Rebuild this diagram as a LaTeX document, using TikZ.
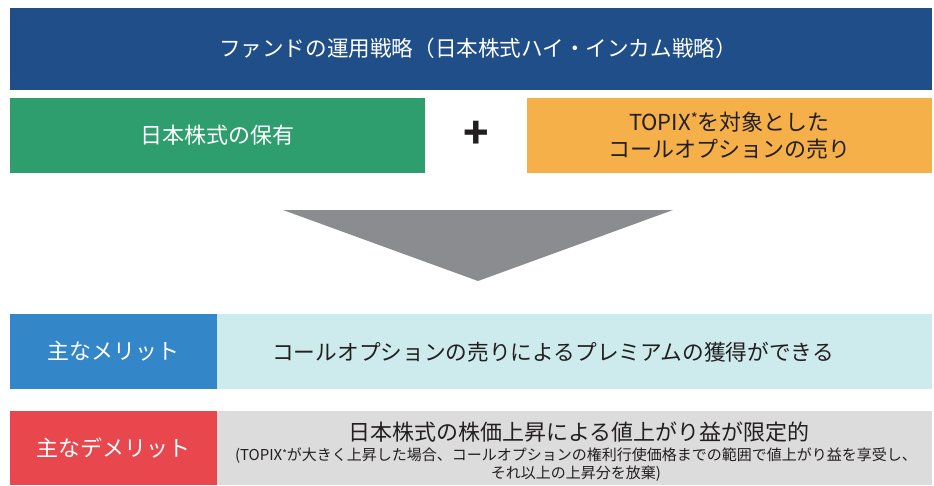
\documentclass[tikz,border=0pt]{standalone}
\usepackage{fontspec}
\setmainfont{Noto Sans CJK JP}
\definecolor{topblue}{HTML}{1F4E89}
\definecolor{boxgreen}{HTML}{2E9E6E}
\definecolor{boxorange}{HTML}{F5B04A}
\definecolor{meritblue}{HTML}{3386C8}
\definecolor{meritcyan}{HTML}{CDEBED}
\definecolor{demred}{HTML}{E8474E}
\definecolor{demgray}{HTML}{DCDCDC}
\definecolor{arrowgray}{HTML}{8A8C8F}
\definecolor{txt}{HTML}{231F20}
\newcommand{\myast}{\raisebox{0.25em}{\fontsize{15}{15}\selectfont *}}
\newcommand{\myastsm}{\raisebox{0.25em}{\fontsize{10}{10}\selectfont *}}
\tikzset{
  box/.style={inner sep=0pt, outer sep=0pt, align=center},
  big/.style={font=\fontsize{22}{27}\selectfont},
  ttl/.style={font=\fontsize{21.6}{26}\selectfont},
  small/.style={font=\fontsize{15}{18}\selectfont},
}
\begin{document}
\begin{tikzpicture}[x=1pt,y=-1pt]
\useasboundingbox (0,0) rectangle (934,485);
\fill[white] (0,0) rectangle (934,485);
% top bar
\node[box, fill=topblue, minimum width=922pt, minimum height=82pt, anchor=north west] (title) at (10,8) {};
\node[box, text=white, ttl] (titletxt) at (478,48) {ファンドの運用戦略（日本株式ハイ・インカム戦略）};
% green / orange
\node[box, fill=boxgreen, minimum width=415pt, minimum height=75pt, anchor=north west, text=white, big] (hold) at (10,98) {日本株式の保有};
\node[box, fill=boxorange, minimum width=405pt, minimum height=75pt, anchor=north west, text=txt, big] (sell) at (527,98) {TOPIX\myast を対象とした\\コールオプションの売り};
\node[box, text=txt, font=\fontsize{42}{42}\selectfont\bfseries] (plus) at (476,135) {+};
% triangle
\fill[arrowgray] (283,210) -- (673,210) -- (478,281) -- cycle;
% merit
\node[box, fill=meritblue, minimum width=207pt, minimum height=75pt, anchor=north west, text=white, big] (meritlab) at (10,314) {主なメリット};
\node[box, fill=meritcyan, minimum width=715pt, minimum height=75pt, anchor=north west] (meritbox) at (217,314) {};
\node[box, text=txt, font=\fontsize{21.7}{26}\selectfont] (merittxt) at (553,352) {コールオプションの売りによるプレミアムの獲得ができる};
% demerit
\node[box, fill=demred, minimum width=207pt, minimum height=74pt, anchor=north west, text=white, big] (demlab) at (10,411) {主なデメリット};
\node[box, fill=demgray, minimum width=715pt, minimum height=74pt, anchor=north west] (dembox) at (217,411) {};
\node[box, text=txt, big] (demtxt) at (579,432) {日本株式の株価上昇による値上がり益が限定的};
\node[box, text=txt, small] (demsub) at (576,465) {(TOPIX\myastsm が大きく上昇した場合、コールオプションの権利行使価格までの範囲で値上がり益を享受し、\\それ以上の上昇分を放棄)};
\end{tikzpicture}
\end{document}
